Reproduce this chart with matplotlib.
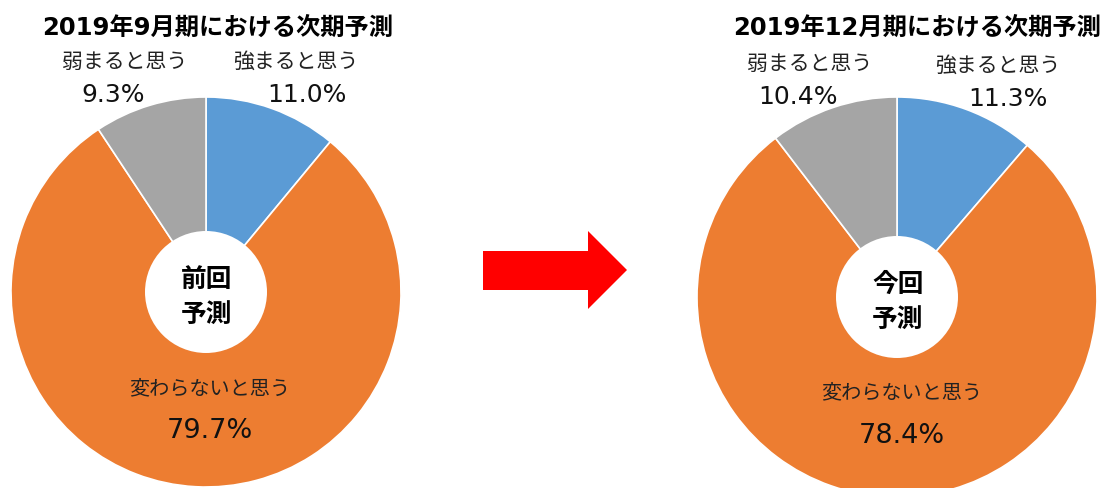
import matplotlib.pyplot as plt
from matplotlib.patches import Circle, Polygon

plt.rcParams['font.family'] = ['Noto Sans CJK JP', 'DejaVu Sans']

labels = ['強まると思う', '変わらないと思う', '弱まると思う']
prev_values = [11.0, 79.7, 9.3]
curr_values = [11.3, 78.4, 10.4]
titles = ['2019年9月期における次期予測', '2019年12月期における次期予測']
center_texts = ['前回\n予測', '今回\n予測']
colors = ['#5B9BD5', '#ED7D31', '#A5A5A5']

W, H = 1113, 489
fig = plt.figure(figsize=(W / 100, H / 100), dpi=100)
ax = fig.add_axes([0, 0, 1, 1])

WIDE = ['DejaVu Sans', 'Noto Sans CJK JP']


def py(y):
    # pixel row from top -> data y
    return H - y


def donut(cx, cy, r, values, title, tx, ctext, pos):
    ax.pie(values, colors=colors, startangle=90, counterclock=False,
           center=(cx, py(cy)), radius=r, frame=True,
           wedgeprops=dict(edgecolor='white', linewidth=1.2))
    ax.add_patch(Circle((cx, py(cy)), 61, facecolor='white', edgecolor='none', zorder=3))
    ax.text(cx + 1, py(cy) - 4, ctext, ha='center', va='center', fontsize=18.5,
            fontweight='bold', linespacing=1.35, zorder=4)
    ax.text(tx, py(28), title, ha='center', va='center', fontsize=17.5,
            fontweight='bold', family=WIDE)
    for i, (lx, ly, nx, ny) in enumerate(pos):
        fs = 14.5 if i == 1 else 15
        ax.text(lx, py(ly), labels[i], ha='center', va='center', fontsize=fs,
                color='#222222')
        nfs = 19.5 if i == 1 else 18
        ax.text(nx, py(ny), f'{values[i]:.1f}%', ha='center', va='center',
                fontsize=nfs, color='#111111', family=WIDE)


donut(206, 293, 195, prev_values, titles[0], 218, center_texts[0],
      [(296, 62, 307, 95), (210, 389, 210, 431), (125, 62, 113, 95)])
donut(897, 298, 200, curr_values, titles[1], 917, center_texts[1],
      [(998, 66, 1008, 99), (902, 393, 902, 436), (810, 64, 798, 97)])

# red arrow between the two charts
ax.add_patch(Polygon([(483, py(252)), (588, py(252)), (588, py(232)),
                      (627, py(271)), (588, py(310)), (588, py(291)),
                      (483, py(291))], closed=True, facecolor='#FF0000',
                     edgecolor='none'))

ax.set_xlim(0, W)
ax.set_ylim(0, H)
ax.set_aspect('equal')
ax.axis('off')
fig.savefig('out.png', dpi=100)
